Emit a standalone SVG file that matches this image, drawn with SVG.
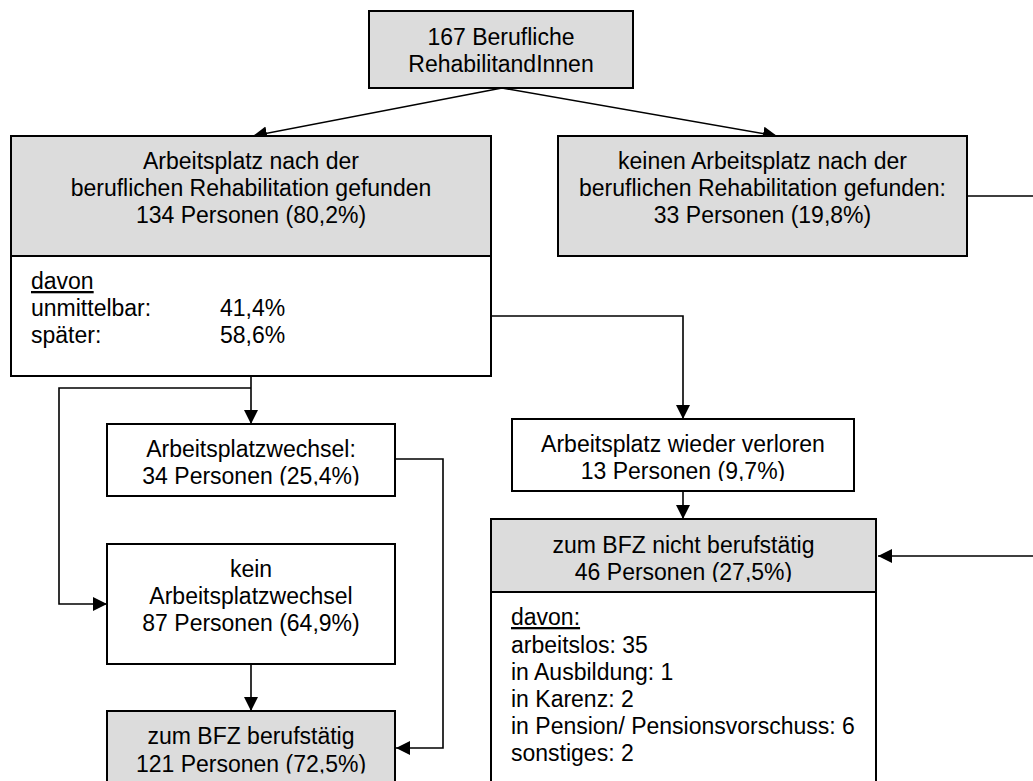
<svg xmlns="http://www.w3.org/2000/svg" width="1033" height="781" viewBox="0 0 1033 781">
<style>
.box{fill:#ffffff;stroke:#000;stroke-width:2}
.grey{fill:#dcdcdc;stroke:#000;stroke-width:2}
.hdr{fill:#dcdcdc;stroke:none}
.div{stroke:#000;stroke-width:2}
text{font-family:"Liberation Sans",Arial,sans-serif;font-size:23px;fill:#000}
.c{text-anchor:middle}
.u{text-decoration:underline}
.con{fill:none;stroke:#000;stroke-width:1.6}
</style>
<defs>
<marker id="ah" markerUnits="userSpaceOnUse" markerWidth="15" markerHeight="15" refX="14" refY="7" orient="auto">
<path d="M0,0 L14,7 L0,14 z" fill="#000"/>
</marker>
<clipPath id="clipC"><rect x="107" y="424" width="288" height="61.5"/></clipPath>
<clipPath id="clipE"><rect x="107" y="711" width="288" height="62.5"/></clipPath>
<clipPath id="clipF"><rect x="512" y="419" width="342" height="62"/></clipPath>
<clipPath id="clipG"><rect x="491" y="519" width="385" height="63"/></clipPath>
</defs>
<rect width="1033" height="781" fill="#fff"/>

<g id="connectors">
<path class="con" d="M502,88 L253,136" marker-end="url(#ah)"/>
<path class="con" d="M502,88 L777,136" marker-end="url(#ah)"/>
<path class="con" d="M967,196 H1040 V556 H878" marker-end="url(#ah)"/>
<path class="con" d="M491,316 H683 V419" marker-end="url(#ah)"/>
<path class="con" d="M251,376 V424" marker-end="url(#ah)"/>
<path class="con" d="M251,388 H59 V604 H107" marker-end="url(#ah)"/>
<path class="con" d="M395,459 H443 V748 H396" marker-end="url(#ah)"/>
<path class="con" d="M251,664 V711" marker-end="url(#ah)"/>
<path class="con" d="M683,491 V519" marker-end="url(#ah)"/>
</g>

<g id="node-top">
<rect class="grey" x="369" y="11" width="264" height="77"/>
<text class="c" x="501" y="45">167 Berufliche</text>
<text class="c" x="501" y="72">RehabilitandInnen</text>
</g>

<g id="node-gefunden">
<rect class="box" x="11" y="136" width="480" height="240"/>
<rect class="hdr" x="12" y="137" width="478" height="119"/>
<line class="div" x1="11" y1="256" x2="491" y2="256"/>
<text class="c" x="251" y="169">Arbeitsplatz nach der</text>
<text class="c" x="251" y="196">beruflichen Rehabilitation gefunden</text>
<text class="c" x="251" y="223">134 Personen (80,2%)</text>
<text class="u" x="31" y="289">davon</text>
<text x="31" y="316">unmittelbar:</text>
<text x="220" y="316">41,4%</text>
<text x="31" y="343">später:</text>
<text x="220" y="343">58,6%</text>
</g>

<g id="node-keinen">
<rect class="grey" x="558" y="136" width="409" height="120"/>
<text class="c" x="762.5" y="169">keinen Arbeitsplatz nach der</text>
<text class="c" x="762.5" y="196">beruflichen Rehabilitation gefunden:</text>
<text class="c" x="762.5" y="223">33 Personen (19,8%)</text>
</g>

<g id="node-wechsel">
<rect class="box" x="107" y="424" width="288" height="72"/>
<g clip-path="url(#clipC)">
<text class="c" x="251" y="457">Arbeitsplatzwechsel:</text>
<text class="c" x="251" y="484">34 Personen (25,4%)</text>
</g>
</g>

<g id="node-keinwechsel">
<rect class="box" x="107" y="544" width="288" height="120"/>
<text class="c" x="251" y="577">kein</text>
<text class="c" x="251" y="604">Arbeitsplatzwechsel</text>
<text class="c" x="251" y="631">87 Personen (64,9%)</text>
</g>

<g id="node-berufstaetig">
<rect class="grey" x="107" y="711" width="288" height="90"/>
<g clip-path="url(#clipE)">
<text class="c" x="251" y="744">zum BFZ berufstätig</text>
<text class="c" x="251" y="772">121 Personen (72,5%)</text>
</g>
</g>

<g id="node-verloren">
<rect class="box" x="512" y="419" width="342" height="72"/>
<g clip-path="url(#clipF)">
<text class="c" x="683" y="452">Arbeitsplatz wieder verloren</text>
<text class="c" x="683" y="479">13 Personen (9,7%)</text>
</g>
</g>

<g id="node-nichtberufstaetig">
<rect class="box" x="491" y="519" width="385" height="280"/>
<rect class="hdr" x="492" y="520" width="383" height="72"/>
<line class="div" x1="491" y1="592" x2="876" y2="592"/>
<g clip-path="url(#clipG)">
<text class="c" x="683.5" y="553">zum BFZ nicht berufstätig</text>
<text class="c" x="683.5" y="580">46 Personen (27,5%)</text>
</g>
<text class="u" x="511" y="625">davon:</text>
<text x="511" y="653">arbeitslos: 35</text>
<text x="511" y="680">in Ausbildung: 1</text>
<text x="511" y="707">in Karenz: 2</text>
<text x="511" y="734">in Pension/ Pensionsvorschuss: 6</text>
<text x="511" y="761">sonstiges: 2</text>
</g>
</svg>
